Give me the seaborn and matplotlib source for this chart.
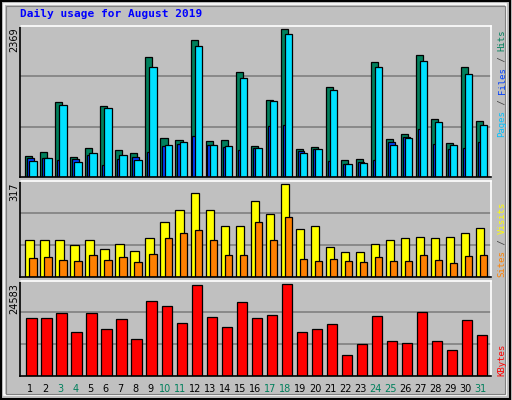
import numpy as np
import matplotlib
matplotlib.use("Agg")
import matplotlib.pyplot as plt
import seaborn as sns
from matplotlib.patches import Rectangle

#------------------------------------------------------------------------------
# data
#------------------------------------------------------------------------------
days = list(range(1, 32))
weekend = [3, 4, 10, 11, 17, 18, 24, 25, 31]

hits = [332, 397, 1201, 316, 461, 1136, 429, 381, 1924, 622, 590, 2198, 574, 590,
        1683, 493, 1233, 2369, 445, 477, 1442, 268, 284, 1844, 606, 686, 1956, 927,
        541, 1763, 895]
files = [252, 300, 1152, 236, 381, 1104, 348, 268, 1763, 509, 557, 2101, 509, 493,
         1587, 461, 1217, 2294, 381, 445, 1394, 204, 220, 1763, 509, 622, 1860, 879,
         509, 1651, 831]
pages = [300, 300, 268, 284, 348, 188, 284, 316, 397, 493, 525, 654, 509, 477,
         429, 461, 815, 831, 413, 445, 252, 204, 236, 268, 557, 638, 766, 525,
         445, 461, 557]

visits = [125, 125, 125, 108, 125, 97, 114, 90, 132, 190, 231, 286, 228, 173, 173,
          259, 217, 317, 166, 173, 101, 84, 87, 114, 128, 132, 138, 132, 138, 149, 169]
sites = [66, 70, 59, 56, 77, 59, 70, 53, 80, 135, 152, 162, 128, 77, 77, 187, 125,
         204, 63, 56, 63, 56, 53, 70, 56, 56, 77, 59, 49, 73, 77]

kbytes = [15432, 15432, 16777, 11933, 16777, 12740, 15163, 10049, 20008, 18662,
          14087, 24314, 15701, 13279, 19739, 15432, 16239, 24583, 11933, 12740,
          13817, 5742, 8703, 15970, 9511, 8972, 17047, 9511, 7088, 14894, 11126]

max_labels = ["2369", "317", "24583"]

#------------------------------------------------------------------------------
sns.set_style("white")
plt.rcParams['font.family'] = ['DejaVu Sans Mono', 'DejaVu Sans']

BG = "#C0C0C0"
fig = plt.figure(figsize=(5.12, 4.0), dpi=100, facecolor=BG)

# outer bevel frame
fig.patches.append(Rectangle((0.002, 0.002), 0.995, 0.995, transform=fig.transFigure,
                             fill=False, edgecolor="black", lw=1.5))
fig.patches.append(Rectangle((0.008, 0.012), 0.98, 0.977, transform=fig.transFigure,
                             fill=False, edgecolor="white", lw=1.2))
fig.patches.append(Rectangle((0.012, 0.016), 0.974, 0.969, transform=fig.transFigure,
                             fill=False, edgecolor="#808080", lw=0.8))

W, H = 512.0, 400.0
x0, x1 = 20.0, 490.5


def make_ax(top, bottom):
    ax = fig.add_axes([x0 / W, 1 - bottom / H, (x1 - x0) / W, (bottom - top) / H])
    ax.set_facecolor(BG)
    ax.set_xlim(-0.35, 30.97)
    for s in ["left", "bottom"]:
        ax.spines[s].set_color("black")
    for s in ["top", "right"]:
        ax.spines[s].set_color("white")
    for s in ax.spines.values():
        s.set_linewidth(1.2)
    ax.set_xticks([])
    ax.set_yticks([])
    return ax


def grid(ax, top):
    ax.set_ylim(0, top)
    for f in (1 / 3, 2 / 3):
        ax.axhline(top * f, color="#808080", lw=1.2, zorder=0)


x = np.arange(len(days))
kw = dict(align="edge", edgecolor="black", linewidth=0.9)

# hits / files / pages
ax1 = make_ax(26, 177)
grid(ax1, 2369 * 1.023)
ax1.bar(x, hits, width=0.47, color="#00805C", **kw)
ax1.bar(x + 0.13, pages, width=0.45, color="#0040FF", **kw)
ax1.bar(x + 0.27, files, width=0.5, color="#00E0FF", **kw)

# visits / sites
ax2 = make_ax(180.7, 277)
grid(ax2, 317 * 1.04)
ax2.bar(x, visits, width=0.56, color="#FFFF00", **kw)
ax2.bar(x + 0.27, sites, width=0.5, color="#FF8000", **kw)

# kbytes
ax3 = make_ax(280.7, 376)
grid(ax3, 24583 * 1.04)
ax3.bar(x + 0.07, kbytes, width=0.69, color="#FF0000", **kw)

# title
fig.text(20 / W, 1 - 14 / H, "Daily usage for August 2019", color="#0000FF",
         fontsize=8, fontweight="bold", va="center", ha="left")

# day labels
for i, d in enumerate(days):
    xf = (x0 + (i * 15.0 + 5.3 + 5.0)) / W
    fig.text(xf, 1 - 389 / H, str(d), ha="center", va="center", fontsize=7,
             family="DejaVu Sans",
             color="#00805C" if d in weekend else "black")

# max labels on the left
for lab, ytop in zip(max_labels, [27, 182, 283]):
    fig.text(14 / W, 1 - ytop / H, lab, rotation=90, ha="center", va="top",
             fontsize=7, family="DejaVu Sans", color="black")

# right side legends, placed by character position (monospace)
CH = 5.4


def side_label(parts, ybottom):
    pos = 0
    for txt, col in parts:
        fig.text(502 / W, 1 - (ybottom - pos * CH) / H, txt, rotation=90,
                 rotation_mode="anchor", ha="left", va="center",
                 fontsize=6.5, color=col)
        pos += len(txt)


side_label([("Pages", "#00C0FF"), (" / ", "#404040"), ("Files", "#0040FF"),
            (" / ", "#404040"), ("Hits", "#00805C")], 137)
side_label([("Sites", "#FF8000"), (" / ", "#404040"), ("Visits", "#FFFF00")], 277)
side_label([("KBytes", "#FF0000")], 376)

fig.savefig("out.png", dpi=100, facecolor=BG)
